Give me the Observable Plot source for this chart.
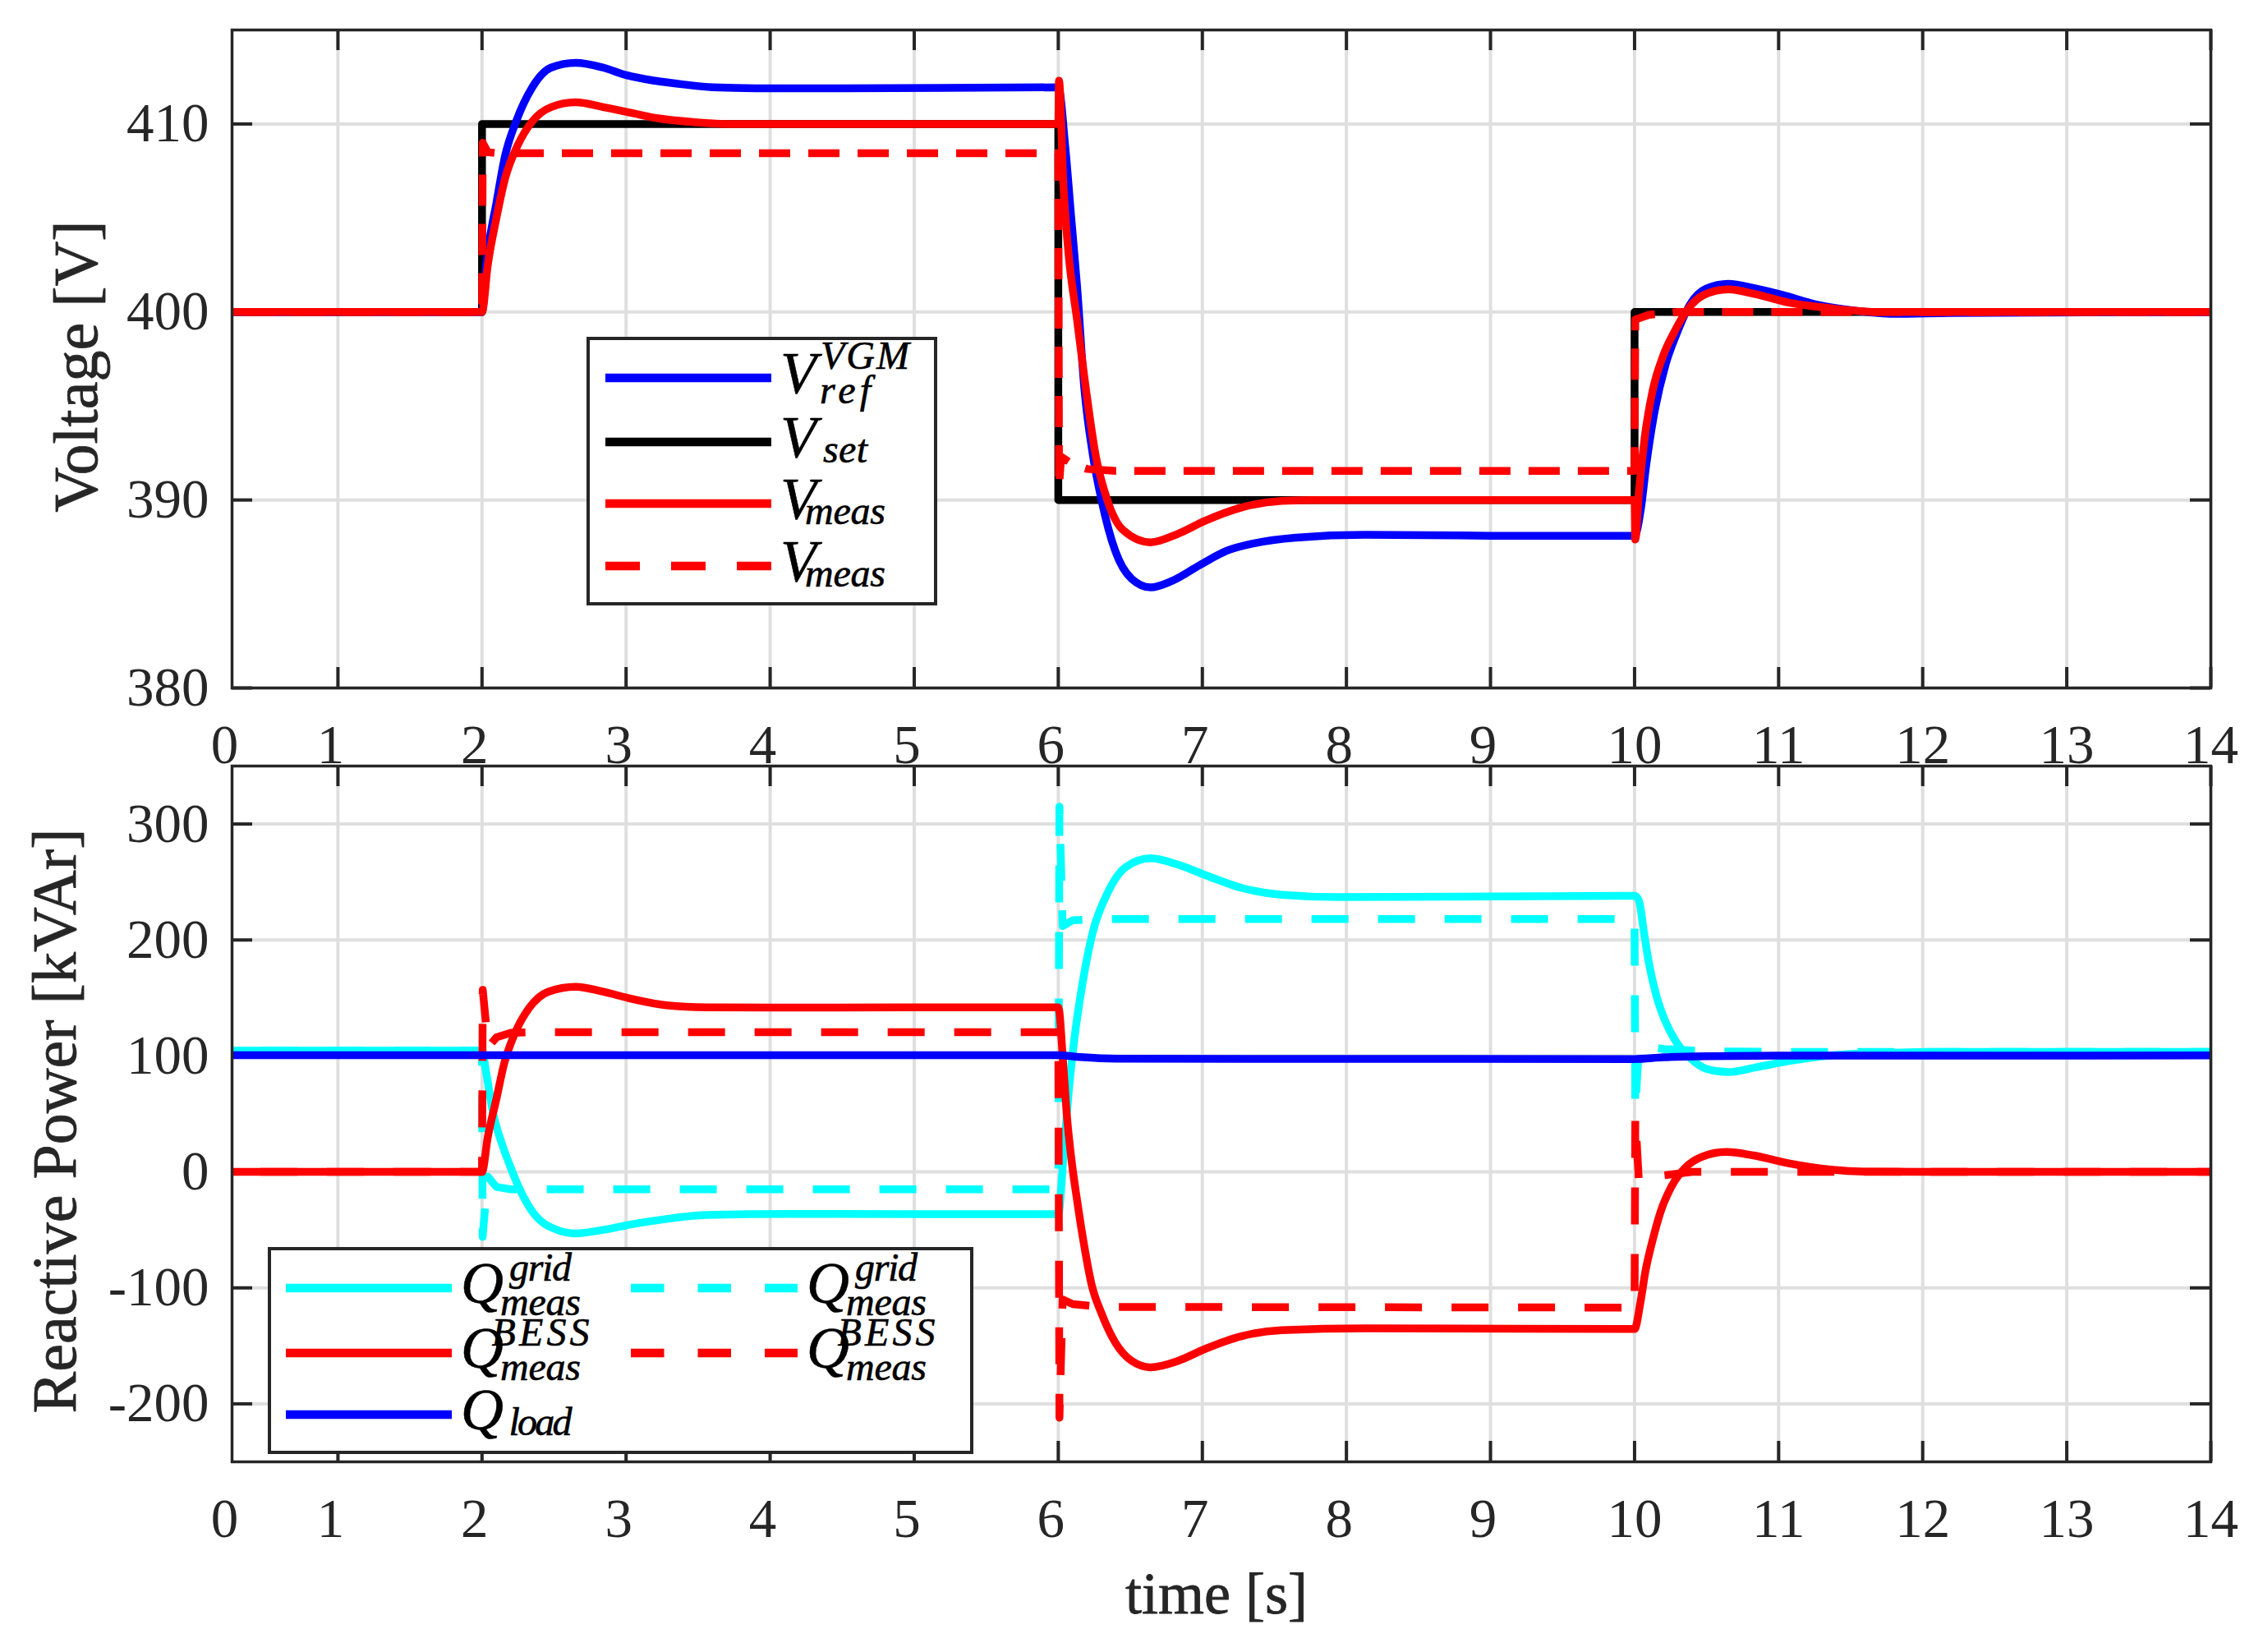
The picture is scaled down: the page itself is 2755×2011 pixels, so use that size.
<!DOCTYPE html>
<html>
<head>
<meta charset="utf-8">
<script src="https://cdn.jsdelivr.net/npm/d3@7"></script>
<script src="https://cdn.jsdelivr.net/npm/@observablehq/plot@0.6"></script>
<style>
  html, body { margin: 0; padding: 0; background: #fff; overflow: hidden; }
  #fig { position: relative; width: 2755px; height: 2011px; background: #fff; }
  #fig > svg { position: absolute; left: 0; }
</style>
</head>
<body>
<div id="fig"></div>
<script>
// ---------------- data ----------------
const xTickLabels = ["0","1","2","3","4","5","6","7","8","9","10","11","12","13","14"];
const xStart = 0.265;           // left edge of the axes (labelled "0")
const xEnd = 14;

const vTicks = [380, 390, 400, 410];
const vTickLabels = ["380", "390", "400", "410"];
const vDomain = [380, 415];

const qTicks = [-200, -100, 0, 100, 200, 300];
const qTickLabels = ["-200", "-100", "0", "100", "200", "300"];
const qDomain = [-250, 350];

// Voltage panel  [time s, voltage V]
const vSet = [[0,400],[2,400],[2,410],[6,410],[6,390],[10,390],[10,400],[14,400]];
const vRefVGM = [[0,400],[2,400],[2.03,402.6],[2.10,405.8],[2.16,408.3],[2.24,410.2],[2.345,411.9],[2.48,413.0],[2.65,413.25],[2.84,413.0],[3.0,412.6],[3.2,412.3],[3.4,412.1],[3.6,411.95],[3.9,411.9],[4.5,411.9],[6,411.95],
  [6.05,408.65],[6.09,405.0],[6.13,401.4],[6.18,396.0],[6.24,392.4],[6.30,390.0],[6.395,387.3],[6.51,385.8],[6.64,385.35],[6.79,385.7],[6.985,386.55],[7.17,387.3],[7.36,387.7],[7.65,388.0],[8.13,388.15],[9,388.1],[10,388.1],
  [10.045,389.6],[10.08,391.8],[10.14,394.75],[10.215,397.2],[10.29,398.8],[10.385,400.4],[10.5,401.25],[10.65,401.5],[10.84,401.25],[11.03,400.9],[11.26,400.4],[11.55,400.05],[11.8,399.9],[12.2,399.95],[14,400]];
const vMeas = [[0,400],[2,400],[2.04,402.5],[2.10,405.0],[2.16,407.1],[2.25,408.9],[2.345,410.1],[2.48,410.9],[2.65,411.15],[2.84,410.9],[3.03,410.6],[3.22,410.3],[3.47,410.1],[3.75,410.0],[6,410.0],
  [6.005,412.3],[6.035,406.8],[6.07,403.2],[6.13,399.6],[6.19,396.0],[6.26,392.35],[6.34,390.0],[6.45,388.4],[6.64,387.75],[6.83,388.2],[7.02,388.9],[7.27,389.6],[7.55,389.95],[7.8,390.0],[10,390.0],
  [10.005,387.9],[10.03,390.4],[10.07,393.3],[10.125,395.8],[10.2,397.7],[10.28,399.0],[10.37,400.15],[10.48,400.9],[10.65,401.2],[10.84,400.95],[11.07,400.5],[11.36,400.2],[11.7,400.0],[14,400]];
const vMeasDash = [[0,400],[2,400],[2.005,409.0],[2.04,408.5],[2.1,408.45],[6,408.45],[6.005,390.7],[6.02,392.3],[6.1,391.9],[6.2,391.65],[6.4,391.55],[10,391.55],[10.005,399.6],[10.1,399.85],[10.3,400],[14,400]];

// Reactive power panel  [time s, kVAr]
const qGrid = [[0,104.5],[2,104.5],[2.03,84.6],[2.08,49],[2.135,25.5],[2.19,6.6],[2.27,-17],[2.36,-36],[2.50,-49],[2.65,-53],[2.84,-50],[3.03,-45.4],[3.28,-40.6],[3.56,-37.2],[4.13,-36.2],[6,-36.5],
  [6.035,12],[6.07,66],[6.11,113],[6.17,164],[6.24,207],[6.34,240],[6.47,263],[6.64,270.4],[6.83,265],[7.02,256],[7.27,245],[7.55,239],[7.94,237],[10,238],
  [10.03,234],[10.065,206.8],[10.1,179.7],[10.15,152.6],[10.21,130.9],[10.29,111.9],[10.385,98.3],[10.5,88.8],[10.65,86.1],[10.84,90.1],[11.07,95.6],[11.36,100.5],[11.7,102.5],[12.2,103.5],[14,103.5]];
const qGridDash = [[0,104.5],[2,104.5],[2.004,-56],[2.04,-4],[2.1,-13],[2.2,-15],[6,-15],[6.008,315],[6.03,212],[6.1,217],[6.3,218],[10,218],[10.005,53],[10.03,109],[10.2,106],[10.5,104],[11,103.5],[14,103.5]];
const qBESS = [[0,0],[2,0],[2.04,30],[2.10,63],[2.155,94],[2.23,120],[2.325,141],[2.46,155.4],[2.65,159.7],[2.84,155.4],[3.03,149.5],[3.28,143.7],[3.56,141.9],[4,141.7],[6,142],
  [6.035,91.5],[6.06,48],[6.09,12],[6.13,-24],[6.175,-60],[6.23,-96.5],[6.30,-122],[6.395,-147],[6.51,-163],[6.64,-168.5],[6.83,-163],[7.02,-152.6],[7.27,-141.7],[7.55,-136.4],[8.13,-134.8],[10,-135.5],
  [10.04,-113],[10.075,-86],[10.125,-59],[10.18,-34.6],[10.255,-12.9],[10.35,3.4],[10.465,12.9],[10.635,17.2],[10.825,14.2],[11.07,7.4],[11.36,2],[11.6,0.3],[12,0],[14,0]];
const qBESSDash = [[0,0],[2,0],[2.005,157],[2.03,125],[2.045,108],[2.1,116],[2.2,120],[2.4,120.5],[6,120.5],[6.008,-212],[6.03,-110],[6.1,-114],[6.3,-116.4],[10,-117],[10.005,48],[10.03,-8],[10.2,-3],[10.4,0],[14,0]];
const qLoad = [[0,100.6],[6,100.6],[6.15,99],[6.4,97.6],[10,97.3],[10.2,98.8],[10.5,99.8],[11,100.3],[14,100.4]];

// legend texts
const vLegend = [
  {main: "V", sup: "VGM", sub: "ref"},
  {main: "V", sub: "set"},
  {main: "V", sub: "meas"},
  {main: "V", sub: "meas"}
];
const qLegend = [
  {main: "Q", sup: "grid", sub: "meas"},
  {main: "Q", sup: "grid", sub: "meas"},
  {main: "Q", sup: "BESS", sub: "meas"},
  {main: "Q", sup: "BESS", sub: "meas"},
  {main: "Q", sub: "load"}
];

// ---------------- styling / layout ----------------
const FONT = "Liberation Serif, Times New Roman, serif";
const AX = "#262626";
const GRID = "#dfdfdf";
const W = 2755;
const ML = 282, MR = 64;
const FW = W - ML - MR;
const LW = 9.5;
const C = {blue: "#0000ff", black: "#000000", red: "#ff0000", cyan: "#00ffff"};

const pts = a => a.map(([t, v]) => ({t, v}));
const xPos = xTickLabels.map((s, i) => i === 0 ? xStart : +s);
const xLabelOf = new Map(xPos.map((p, i) => [p, xTickLabels[i]]));

function axesMarks(yTicks, yLabels, FH) {
  const yLabelOf = new Map(yTicks.map((p, i) => [p, yLabels[i]]));
  const inner = xPos.slice(1);
  const tickText = {fontSize: 67, fontFamily: FONT, label: null, fill: AX, stroke: AX, strokeWidth: 0.8};
  return [
    Plot.gridX({ticks: inner, stroke: GRID, strokeOpacity: 1, strokeWidth: 4}),
    Plot.gridY({ticks: yTicks, stroke: GRID, strokeOpacity: 1, strokeWidth: 4}),
    Plot.tickX(inner, {x: d => d, insetTop: FH - 25, stroke: AX, strokeWidth: 4}),
    Plot.tickX(inner, {x: d => d, insetBottom: FH - 25, stroke: AX, strokeWidth: 4}),
    Plot.tickY(yTicks, {y: d => d, insetRight: FW - 25, stroke: AX, strokeWidth: 4}),
    Plot.tickY(yTicks, {y: d => d, insetLeft: FW - 25, stroke: AX, strokeWidth: 4}),
    Plot.axisX({...tickText, ticks: xPos.filter(p => xLabelOf.get(p).length === 1), tickFormat: d => xLabelOf.get(d),
      anchor: "bottom", tickSize: 0, tickPadding: 44, dx: -9}),
    Plot.axisX({...tickText, ticks: xPos.filter(p => xLabelOf.get(p).length > 1), tickFormat: d => xLabelOf.get(d),
      anchor: "bottom", tickSize: 0, tickPadding: 44}),
    Plot.axisY({...tickText, ticks: yTicks, tickFormat: d => yLabelOf.get(d), anchor: "left", tickSize: 0, tickPadding: 28})
  ];
}

function legendMark(box, items, opts) {
  return () => {
    const g = d3.create("svg:g");
    g.append("rect").attr("x", box.x).attr("y", box.y).attr("width", box.w).attr("height", box.h)
      .attr("fill", "#fff").attr("stroke", AX).attr("stroke-width", 4);
    items.forEach(it => {
      g.append("line").attr("x1", it.x1).attr("x2", it.x2).attr("y1", it.y).attr("y2", it.y)
        .attr("stroke", it.color).attr("stroke-width", 10.5)
        .attr("stroke-dasharray", it.dash || null);
      const lab = it.label;
      const txt = (x, y, s, size, len) => {
        const t = g.append("text").attr("x", x).attr("y", y).attr("font-family", FONT)
          .attr("font-style", "italic").attr("font-size", size).attr("fill", "#000")
          .attr("stroke", "#000").attr("stroke-width", 0.6).text(s);
        if (len) t.attr("textLength", len).attr("lengthAdjust", "spacing");
      };
      txt(it.tx, it.y + 18, lab.main, 72);
      if (lab.sup) {
        txt(it.sx + opts.supShift, it.y - opts.supUp, lab.sup, 48, opts.len[lab.sup]);
        txt(it.sx, it.y + opts.subDownBoth, lab.sub, 48, opts.len[lab.sub]);
      } else {
        txt(it.sx, it.y + 25, lab.sub, 48, opts.len[lab.sub]);
      }
    });
    return g.node();
  };
}

const baseStyle = {background: "transparent", overflow: "visible", color: AX, fontFamily: FONT};

// ---------------- top panel: voltage ----------------
const topH = 945, topMT = 36, topMB = 108;
const topFH = topH - topMT - topMB;
const topDash = "38,22";
const topLegendItems = [
  {color: C.blue, label: vLegend[0]},
  {color: C.black, label: vLegend[1]},
  {color: C.red, label: vLegend[2]},
  {color: C.red, dash: "42,38", label: vLegend[3]}
].map((d, i) => ({...d, x1: 737, x2: 939, tx: 972, sx: 1029, y: [460, 538, 613, 689][i]}));

const voltagePlot = Plot.plot({
  width: W, height: topH,
  marginLeft: ML, marginRight: MR, marginTop: topMT, marginBottom: topMB,
  style: baseStyle,
  x: {domain: [xStart, xEnd]},
  y: {domain: vDomain},
  marks: [
    ...axesMarks(vTicks, vTickLabels, topFH),
    Plot.line(pts(vSet), {x: "t", y: "v", stroke: C.black, strokeWidth: LW, clip: true}),
    Plot.line(pts(vRefVGM), {x: "t", y: "v", stroke: C.blue, strokeWidth: LW, curve: "monotone-x", clip: true}),
    Plot.line(pts(vMeas), {x: "t", y: "v", stroke: C.red, strokeWidth: LW, curve: "monotone-x", clip: true}),
    Plot.line(pts(vMeasDash), {x: "t", y: "v", stroke: C.red, strokeWidth: LW, strokeDasharray: topDash, strokeLinecap: "butt", clip: true}),
    Plot.frame({stroke: AX, strokeWidth: 3.5}),
    Plot.text(["Voltage [V]"], {frameAnchor: "left", textAnchor: "middle", rotate: -90, dx: -189, dy: 9, fontSize: 76, fontFamily: FONT, fill: AX, stroke: AX, strokeWidth: 0.8}),
    legendMark({x: 716, y: 412, w: 423, h: 323}, topLegendItems,
      {supShift: 24, supUp: 11, subDownBoth: 31, len: {VGM: 108, ref: 62, set: 54, meas: 98}})
  ]
});
voltagePlot.style.top = "0px";

// ---------------- bottom panel: reactive power ----------------
const botTop = 900;
const botH = 1111, botMT = 32, botMB = 232;
const botFH = botH - botMT - botMB;
const botDash = "45,36";
const rowsQ = [668, 747, 822];
const botLegendItems = [
  {color: C.cyan, label: qLegend[0], col: 0, row: 0},
  {color: C.cyan, dash: "40.5,41", label: qLegend[1], col: 1, row: 0},
  {color: C.red, label: qLegend[2], col: 0, row: 1},
  {color: C.red, dash: "40.5,41", label: qLegend[3], col: 1, row: 1},
  {color: C.blue, label: qLegend[4], col: 0, row: 2}
].map(d => ({...d, x1: d.col ? 768 : 348, x2: d.col ? 971 : 550,
  tx: d.col ? 1008 : 587, sx: d.col ? 1079 : 658, y: rowsQ[d.row]}));

const powerPlot = Plot.plot({
  width: W, height: botH,
  marginLeft: ML, marginRight: MR, marginTop: botMT, marginBottom: botMB,
  style: baseStyle,
  x: {domain: [xStart, xEnd]},
  y: {domain: qDomain},
  marks: [
    ...axesMarks(qTicks, qTickLabels, botFH),
    Plot.line(pts(qGrid), {x: "t", y: "v", stroke: C.cyan, strokeWidth: LW, curve: "monotone-x", clip: true}),
    Plot.line(pts(qGridDash), {x: "t", y: "v", stroke: C.cyan, strokeWidth: LW, strokeDasharray: botDash, strokeLinecap: "butt", clip: true}),
    Plot.line(pts(qBESS), {x: "t", y: "v", stroke: C.red, strokeWidth: LW, curve: "monotone-x", clip: true}),
    Plot.line(pts(qBESSDash), {x: "t", y: "v", stroke: C.red, strokeWidth: LW, strokeDasharray: botDash, strokeLinecap: "butt", clip: true}),
    Plot.line(pts(qLoad), {x: "t", y: "v", stroke: C.blue, strokeWidth: LW, curve: "monotone-x", clip: true}),
    Plot.frame({stroke: AX, strokeWidth: 3.5}),
    Plot.text(["Reactive Power [kVAr]"], {frameAnchor: "left", textAnchor: "middle", rotate: -90, dx: -215, dy: 8.5, fontSize: 76, fontFamily: FONT, fill: AX, stroke: AX, strokeWidth: 0.8}),
    Plot.text(["time [s]"], {frameAnchor: "bottom", textAnchor: "middle", dx: -6, dy: 184, fontSize: 72, fontFamily: FONT, fill: AX, stroke: AX, strokeWidth: 0.8}),
    legendMark({x: 328, y: 620, w: 855, h: 248}, botLegendItems,
      {supShift: 0, supUp: 9, subDownBoth: 33, len: {grid: 76, meas: 98, BESS: 119, load: 77}})
  ]
});
powerPlot.style.top = botTop + "px";

const fig = document.getElementById("fig");
fig.appendChild(voltagePlot);
fig.appendChild(powerPlot);
</script>
</body>
</html>
